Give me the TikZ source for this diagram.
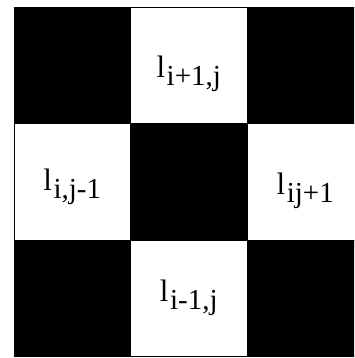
\documentclass[tikz,border=0pt]{standalone}
\usepackage{fontspec}
\setmainfont{Liberation Serif}
\usetikzlibrary{positioning}

\newcommand{\lsub}[1]{l\kern1.5pt\raisebox{-8pt}{\fontsize{29}{29}\selectfont #1}}

\begin{document}
\begin{tikzpicture}[x=1pt,y=1pt,node distance=0pt,
  cell/.style={draw=black,thin,minimum size=116.5pt,inner sep=0pt,outer sep=0pt,
               font=\fontsize{31}{31}\selectfont},
  dark/.style={cell,fill=black},
  light/.style={cell,fill=white}]
  \clip (0,0) rectangle (354,-358);
  % top row
  \node[dark,anchor=north west] (tl) at (14,-7) {};
  \node[light,right=of tl,text height=38pt] (t) {\lsub{i+1,j}};
  \node[dark,right=of t] (tr) {};
  % middle row
  \node[light,below=of tl,text height=32pt] (l) {\lsub{i,j-1}};
  \node[dark,right=of l] (c) {};
  \node[light,right=of c,text height=40pt] (r) {\lsub{ij+1}};
  % bottom row
  \node[dark,below=of l] (bl) {};
  \node[light,right=of bl] (b) {\lsub{i-1,j}};
  \node[dark,right=of b] (br) {};
\end{tikzpicture}
\end{document}
